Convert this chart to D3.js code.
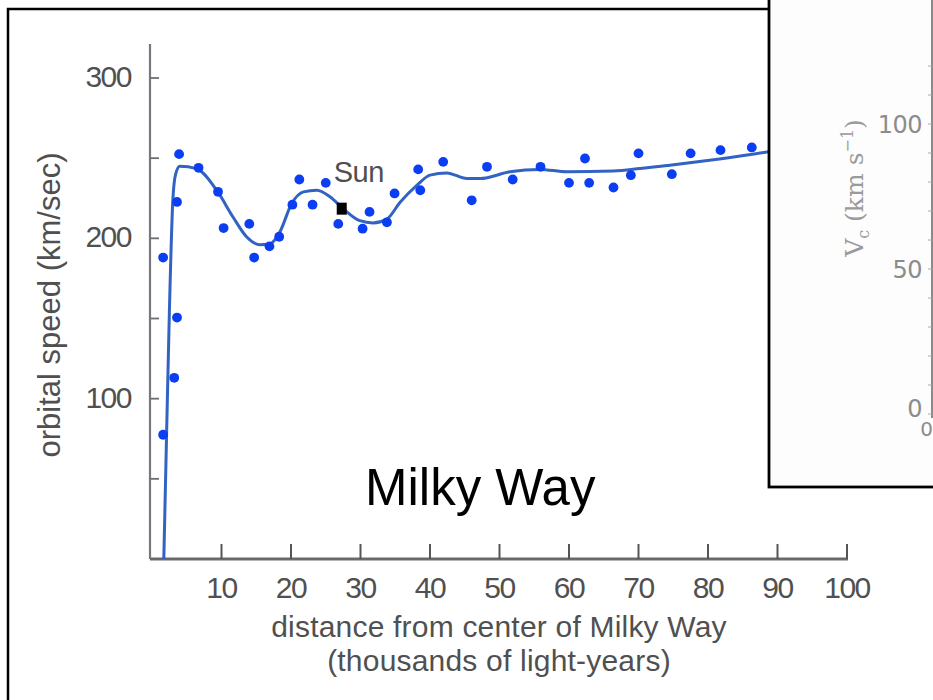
<!DOCTYPE html>
<html>
<head>
<meta charset="utf-8">
<script src="https://cdn.jsdelivr.net/npm/d3@7"></script>
<style>
  body { margin: 0; background: #fff; }
  svg { display: block; font-family: "Liberation Sans", Arial, sans-serif; }
</style>
</head>
<body>
<svg id="chart" width="933" height="700"></svg>
<script>
// measured points (thousands of light-years, km/sec)
var dotDist  = [1.6, 1.6, 3.2, 3.6, 3.6, 3.9, 6.7, 9.5, 10.3, 14.0, 14.7, 16.9, 18.3, 20.2, 21.2, 23.1, 25.0, 26.8, 30.3, 31.3, 33.8, 34.9, 38.3, 38.6, 41.9, 46.0, 48.2, 51.9, 55.9, 60.0, 62.3, 62.9, 66.4, 68.9, 70.0, 74.8, 77.5, 81.8, 86.3];
var dotSpeed = [188, 77.5, 113, 150.6, 222.7, 252.5, 244, 229, 206.4, 209, 188, 195, 201, 221, 236.7, 221, 234.6, 209, 206, 216.5, 210, 228, 243, 230, 247.7, 223.7, 244.6, 236.7, 244.6, 234.6, 249.8, 234.6, 231.7, 239.4, 253, 240, 253, 255, 256.7];

// fitted rotation curve
var curveDist  = [1.7, 2.1, 2.5, 3.0, 3.4, 4.0, 6.4, 9.3, 11.7, 13.6, 15.5, 17.0, 18.4, 20.1, 21.8, 23.7, 25.6, 27.5, 29.9, 31.8, 33.8, 35.7, 38.1, 40.0, 42.4, 45.3, 47.2, 51.5, 55.8, 59.7, 66.4, 70.2, 74.5, 80.8, 88.7, 92.0];
var curveSpeed = [0, 78, 154, 224, 240, 245, 243.5, 230, 213, 201, 196, 196.6, 204, 221.7, 229, 230, 226, 218.5, 211, 209.6, 212, 222.5, 233, 239.4, 240.8, 237.3, 237.3, 241.5, 243, 241.5, 242, 243.5, 245.6, 249, 254, 256];

var sunPoint = {dist: 27.3, speed: 218.5};

var xTicks = [10, 20, 30, 40, 50, 60, 70, 80, 90, 100];
var yTicks = [50, 100, 150, 200, 250, 300];
var yLabels = [100, 200, 300];

// inset (partly hidden) chart
var insetTicks = [0, 50, 100];
var insetMinor = [10, 20, 30, 40, 60, 70, 80, 90, 110, 120];

var svg = d3.select("#chart");
var textColor = "#505050";

var x = d3.scaleLinear().domain([0, 100]).range([152, 847]);
var y = d3.scaleLinear().domain([0, 300]).range([559, 78]);

// outer frame of the main figure
svg.append("rect")
  .attr("x", 8).attr("y", 9)
  .attr("width", 1200).attr("height", 900)
  .attr("fill", "#fff")
  .attr("stroke", "#000").attr("stroke-width", 2.5);

// y axis
svg.append("line")
  .attr("x1", 150).attr("x2", 150)
  .attr("y1", 44).attr("y2", y(0))
  .attr("stroke", "#77777f").attr("stroke-width", 2.2);

svg.selectAll(".ytick")
  .data(yTicks).enter().append("line")
  .attr("class", "ytick")
  .attr("x1", 150).attr("x2", 159)
  .attr("y1", d => y(d)).attr("y2", d => y(d))
  .attr("stroke", "#6d6d73").attr("stroke-width", 1.8);

svg.selectAll(".ylab")
  .data(yLabels).enter().append("text")
  .attr("class", "ylab")
  .attr("x", 131).attr("y", d => y(d) + 9)
  .attr("text-anchor", "end")
  .attr("font-size", 30).attr("letter-spacing", -1.5)
  .attr("fill", textColor)
  .text(d => d);

svg.append("text")
  .attr("transform", "translate(60,305) rotate(-90)")
  .attr("text-anchor", "middle")
  .attr("font-size", 31)
  .attr("fill", textColor)
  .text("orbital speed (km/sec)");

// x axis
svg.append("line")
  .attr("x1", 150).attr("x2", x(100) + 1)
  .attr("y1", y(0)).attr("y2", y(0))
  .attr("stroke", "#6a6a6a").attr("stroke-width", 3);

svg.selectAll(".xtick")
  .data(xTicks).enter().append("line")
  .attr("class", "xtick")
  .attr("x1", d => x(d)).attr("x2", d => x(d))
  .attr("y1", y(0)).attr("y2", y(0) - 15)
  .attr("stroke", "#555").attr("stroke-width", 2);

svg.selectAll(".xlab")
  .data(xTicks).enter().append("text")
  .attr("class", "xlab")
  .attr("x", d => x(d)).attr("y", 598)
  .attr("text-anchor", "middle")
  .attr("font-size", 30).attr("letter-spacing", -1.5)
  .attr("fill", textColor)
  .text(d => d);

svg.append("text")
  .attr("x", 499).attr("y", 637)
  .attr("text-anchor", "middle")
  .attr("font-size", 30).attr("letter-spacing", 0.2)
  .attr("fill", textColor)
  .text("distance from center of Milky Way");

svg.append("text")
  .attr("x", 499).attr("y", 671)
  .attr("text-anchor", "middle")
  .attr("font-size", 30).attr("letter-spacing", 0.2)
  .attr("fill", textColor)
  .text("(thousands of light-years)");

// rotation curve
var line = d3.line()
  .x((d, i) => x(d))
  .y((d, i) => y(curveSpeed[i]))
  .curve(d3.curveMonotoneX);

svg.append("path")
  .datum(curveDist)
  .attr("d", line)
  .attr("fill", "none")
  .attr("stroke", "#3263c2")
  .attr("stroke-width", 3);

// data points
svg.selectAll(".dot")
  .data(dotDist).enter().append("circle")
  .attr("class", "dot")
  .attr("cx", d => x(d))
  .attr("cy", (d, i) => y(dotSpeed[i]))
  .attr("r", 4.9)
  .attr("fill", "#0b3ef2");

// the Sun
svg.append("rect")
  .attr("x", x(sunPoint.dist) - 5).attr("y", y(sunPoint.speed) - 6)
  .attr("width", 10).attr("height", 12)
  .attr("fill", "#000");

svg.append("text")
  .attr("x", x(sunPoint.dist) - 8).attr("y", y(sunPoint.speed) - 27)
  .attr("font-size", 29).attr("letter-spacing", -0.5)
  .attr("fill", textColor)
  .text("Sun");

svg.append("text")
  .attr("x", 365).attr("y", 505)
  .attr("font-size", 51)
  .attr("fill", "#000")
  .text("Milky Way");

// inset panel overlapping the top right corner
var inset = svg.append("g");
var yi = d3.scaleLinear().domain([0, 100]).range([414, 124]);

inset.append("rect")
  .attr("x", 769).attr("y", -20)
  .attr("width", 300).attr("height", 507)
  .attr("fill", "#fdfdfd")
  .attr("stroke", "#000").attr("stroke-width", 2.8);

inset.append("line")
  .attr("x1", 932).attr("x2", 932)
  .attr("y1", 0).attr("y2", yi(0) + 4)
  .attr("stroke", "#8a8a8a").attr("stroke-width", 2);

inset.selectAll(".itick")
  .data(insetMinor.concat(insetTicks)).enter().append("line")
  .attr("class", "itick")
  .attr("x1", 928).attr("x2", 932)
  .attr("y1", d => yi(d)).attr("y2", d => yi(d))
  .attr("stroke", "#aaa").attr("stroke-width", 1);

inset.selectAll(".ilab")
  .data(insetTicks).enter().append("text")
  .attr("class", "ilab")
  .attr("x", 922).attr("y", d => d === 0 ? yi(d) + 3 : yi(d) + 9)
  .attr("text-anchor", "end")
  .attr("font-family", "'DejaVu Sans', sans-serif")
  .attr("font-size", 24).attr("letter-spacing", -0.5)
  .attr("fill", "#8c8c8c")
  .text(d => d);

inset.append("text")
  .attr("x", 933).attr("y", yi(0) + 22)
  .attr("text-anchor", "end")
  .attr("font-family", "'DejaVu Sans', sans-serif")
  .attr("font-size", 20)
  .attr("fill", "#8c8c8c")
  .text("0");

var vlab = inset.append("text")
  .attr("transform", "translate(863,188) rotate(-90)")
  .attr("text-anchor", "middle")
  .attr("font-family", "'DejaVu Serif', 'Liberation Serif', serif")
  .attr("font-size", 25)
  .attr("fill", "#9a9a9a");
vlab.append("tspan").text("V");
vlab.append("tspan").attr("dy", 6).attr("font-size", 16).text("c");
vlab.append("tspan").attr("dy", -6).text(" (km s");
vlab.append("tspan").attr("dy", -10).attr("font-size", 16).text("−1");
vlab.append("tspan").attr("dy", 10).text(")");
</script>
</body>
</html>
